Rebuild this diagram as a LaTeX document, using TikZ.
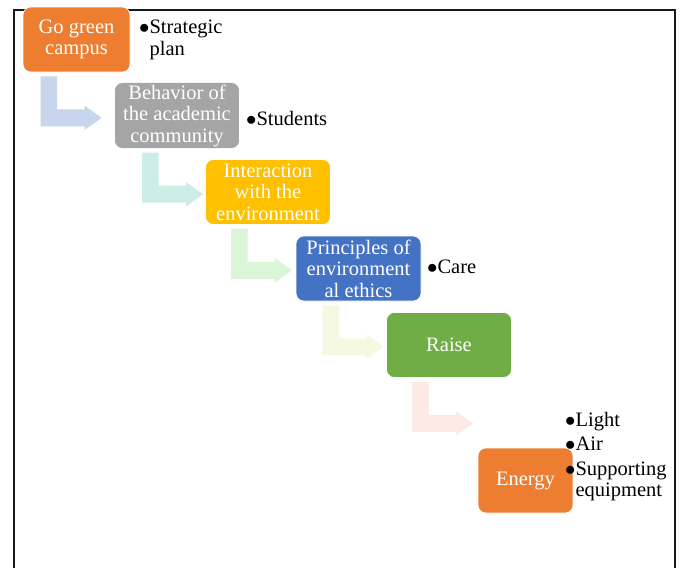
\documentclass[tikz,border=0pt]{standalone}
\usepackage{fontspec}
\setmainfont{Liberation Serif}
\usetikzlibrary{calc}
\definecolor{boxOrange}{HTML}{ED7D31}
\definecolor{boxGray}{HTML}{A5A5A5}
\definecolor{boxGold}{HTML}{FFC000}
\definecolor{boxBlue}{HTML}{4472C4}
\definecolor{boxGreen}{HTML}{70AD47}
\definecolor{arrBlue}{HTML}{C7D6EC}
\definecolor{arrTeal}{HTML}{CCEEE7}
\definecolor{arrGreen}{HTML}{DBF5D9}
\definecolor{arrYellow}{HTML}{F6F9E1}
\definecolor{arrPink}{HTML}{FBEAE6}
\tikzset{
  stage/.style={draw=white,line width=0.6pt,rectangle,rounded corners=8pt,minimum width=125pt,minimum height=65pt,
    align=center,text=white,inner sep=2pt,font=\fontsize{20.5}{21.5}\selectfont},
  bullets/.style={anchor=west,inner sep=0pt,font=\fontsize{20.5}{21.5}\selectfont}
}
\newcommand{\bul}{$\bullet$}
% bent arrow hanging below a stage box: #1 box, #2 x offset, #3 colour
\newcommand{\bentarrow}[3]{%
  \fill[#3] ($(#1.south west)+(#2,4)$) -- ++(16.5,0) -- ++(0,33) -- ++(27.5,0) -- ++(0,-3.5)
    -- ++(17,12) -- ++(-17,12) -- ++(0,-3.5) -- ++(-44,0) -- cycle;}

\begin{document}
\begin{tikzpicture}[x=1pt,y=-1pt]
\useasboundingbox (0,0) rectangle (681,568);
\draw[line width=2pt,black!90] (14,575) -- (14,10) -- (675,10) -- (675,575);

\node[stage,fill=boxOrange,minimum width=107pt] (go) at (76.5,39.5) {Go green\\campus};
\node[stage,fill=boxGray] (behavior) at (177,115.5) {Behavior of\\the academic\\community};
\node[stage,fill=boxGold] (interact) at (268,192) {Interaction\\with the\\environment};
\node[stage,fill=boxBlue] (ethics) at (358.5,268.5) {Principles of\\environment\\al ethics};
\node[stage,fill=boxGreen] (raise) at (449,345) {Raise};
\node[stage,fill=boxOrange,minimum width=95pt] (energy) at (525.5,480.5) {Energy};

\bentarrow{go}{18}{arrBlue}
\bentarrow{behavior}{28}{arrTeal}
\bentarrow{interact}{26}{arrGreen}
\bentarrow{ethics}{27}{arrYellow}
\bentarrow{raise}{26}{arrPink}

\node[bullets] (plan) at (139,40) {\begin{tabular}{@{}l@{}l@{}}\bul&Strategic\\&plan\end{tabular}};
\node[bullets] (students) at (246,118) {\bul Students};
\node[bullets] (care) at (427,267) {\bul Care};
\node[bullets] (needs) at (565,457) {\begin{tabular}{@{}l@{}l@{}}\bul&Light\\[3pt]\bul&Air\\[3pt]\bul&Supporting\\&equipment\end{tabular}};
\end{tikzpicture}
\end{document}
